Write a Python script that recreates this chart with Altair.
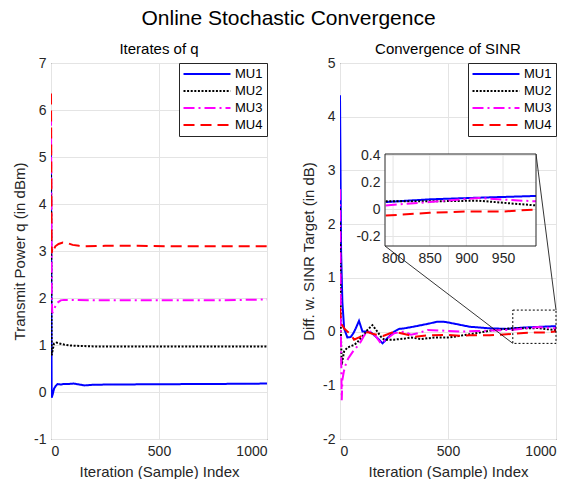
import altair as alt
import pandas as pd

SERIES = ["MU1", "MU2", "MU3", "MU4"]
COLORS = ["#0000ff", "#000000", "#ff00ff", "#ff0000"]
DASHES = [[1, 0], [2, 1.6], [11, 4, 2, 4], [11, 6]]

# ---- Left panel: iterates of q (dBm) ----
q1_x = [0, 3, 8, 14, 22, 30, 45, 60, 80, 105, 130, 155, 200, 300, 500, 700, 900, 1000]
q1_y = [5.05, -0.12, -0.05, 0.07, 0.13, 0.17, 0.16, 0.17, 0.17, 0.18, 0.16, 0.14, 0.155, 0.16, 0.165, 0.17, 0.175, 0.18]
q2_x = [0, 3, 8, 14, 25, 40, 60, 90, 130, 200, 400, 700, 1000]
q2_y = [5.0, 0.78, 0.9, 1.03, 1.05, 1.03, 1.01, 0.99, 0.98, 0.97, 0.97, 0.97, 0.97]
q3_x = [0, 3, 6, 12, 20, 30, 45, 60, 100, 200, 500, 800, 1000]
q3_y = [5.9, 2.0, 1.68, 1.75, 1.82, 1.9, 1.95, 1.96, 1.96, 1.95, 1.95, 1.95, 1.97]
q4_x = [0, 3, 6, 10, 20, 35, 55, 75, 100, 130, 160, 250, 400, 600, 800, 1000]
q4_y = [6.35, 2.95, 3.05, 3.0, 3.1, 3.15, 3.18, 3.17, 3.13, 3.11, 3.1, 3.11, 3.11, 3.1, 3.1, 3.1]

# ---- Right panel: difference with SINR target (dB) ----
s1_x = [0, 5, 11, 19, 34, 50, 62, 73, 88, 104, 127, 145, 173, 197, 220, 251, 274, 298, 352, 414, 445, 476, 500, 538, 600, 693, 771, 790, 850, 917, 995, 1000]
s1_y = [4.4, 1.5, 0.55, 0.06, -0.11, -0.1, -0.03, 0.06, 0.2, 0.0, 0.0, -0.02, -0.12, -0.22, -0.12, 0.0, 0.05, 0.06, 0.1, 0.15, 0.18, 0.185, 0.17, 0.14, 0.09, 0.06, 0.05, 0.055, 0.075, 0.087, 0.1, 0.1]
s2_x = [0, 4, 8, 13, 19, 34, 50, 65, 80, 96, 112, 127, 150, 173, 190, 205, 251, 300, 329, 375, 437, 500, 538, 600, 631, 700, 724, 790, 850, 917, 960, 995, 1000]
s2_y = [2.3, 0.0, -0.62, -0.5, -0.37, -0.3, -0.27, -0.25, -0.2, -0.12, -0.05, 0.03, 0.12, 0.0, -0.1, -0.15, -0.15, -0.13, -0.11, -0.14, -0.11, -0.11, -0.09, -0.05, -0.03, 0.02, 0.03, 0.06, 0.06, 0.065, 0.045, 0.03, 0.03]
s3_x = [0, 4, 8, 11, 18, 26, 38, 50, 62, 73, 85, 96, 108, 119, 142, 166, 189, 212, 251, 298, 329, 360, 406, 468, 561, 631, 700, 771, 790, 850, 917, 960, 995, 1000]
s3_y = [2.65, 0.0, -1.28, -0.9, -0.74, -0.62, -0.5, -0.43, -0.36, -0.31, -0.25, -0.19, -0.1, -0.03, 0.0, -0.09, -0.22, -0.15, -0.03, 0.0, -0.06, -0.03, 0.03, 0.02, 0.0, 0.01, 0.02, 0.03, 0.03, 0.055, 0.085, 0.07, 0.06, 0.06]
s4_x = [0, 3, 10, 19, 34, 50, 65, 88, 111, 127, 150, 173, 200, 220, 251, 313, 344, 406, 499, 553, 600, 693, 790, 850, 900, 950, 995, 1000]
s4_y = [0.45, 0.25, 0.12, 0.06, 0.0, -0.05, -0.15, -0.11, -0.05, -0.01, -0.04, -0.06, -0.08, -0.05, 0.0, -0.06, -0.1, -0.07, -0.06, -0.08, -0.07, -0.07, -0.045, -0.025, -0.015, -0.015, 0.0, 0.0]

# axis limits / ticks
q_ylim = [-1, 7]
s_ylim = [-2, 5]
x_lim = [0, 1000]
x_ticks = [0, 500, 1000]
inset_xlim = [789, 995]
inset_ylim = [-0.27, 0.41]
inset_xticks = [800, 850, 900, 950]
inset_yticks = [-0.2, 0, 0.2, 0.4]
zoom_box_x = [800, 1000]
zoom_box_y = [-0.22, 0.40]

# layout (pixels)
W, H = 216, 376
INSET_PX_X = [45, 196]
INSET_PX_Y = [183, 91]

FONT = "Liberation Sans"
GRID = "#e4e4e4"
AX = "#262626"
PLAIN = "'' + datum.value"


def long_df(xs, ys):
    rows = []
    for name, xv, yv in zip(SERIES, xs, ys):
        for a, b in zip(xv, yv):
            rows.append({"mu": name, "iter": a, "val": b})
    return pd.DataFrame(rows)


q_df = long_df([q1_x, q2_x, q3_x, q4_x], [q1_y, q2_y, q3_y, q4_y])
s_df = long_df([s1_x, s2_x, s3_x, s4_x], [s1_y, s2_y, s3_y, s4_y])

legend = alt.Legend(
    title=None, orient="top-right", offset=0, symbolType="M-4,0H4", symbolSize=138,
    symbolStrokeWidth=2, symbolOffset=17, labelOffset=21, padding=4, fillColor="white",
    strokeColor=AX, labelFontSize=13, labelFont=FONT, labelColor="black", rowPadding=3,
)
color = alt.Color("mu:N", scale=alt.Scale(domain=SERIES, range=COLORS), legend=legend)
dash = alt.StrokeDash("mu:N", scale=alt.Scale(domain=SERIES, range=DASHES), legend=legend)


def main_x(field):
    return alt.X(f"{field}:Q", scale=alt.Scale(domain=x_lim, nice=False, zero=False),
                 axis=alt.Axis(values=x_ticks, title="Iteration (Sample) Index", labelExpr=PLAIN))


def main_y(field, lim, title):
    return alt.Y(f"{field}:Q", scale=alt.Scale(domain=lim, nice=False, zero=False),
                 axis=alt.Axis(values=list(range(lim[0], lim[1] + 1)), title=title, labelExpr=PLAIN))


def panel_title(t):
    return alt.TitleParams(t, fontSize=15, fontWeight="normal", color="black", font=FONT,
                           offset=-1, frame="group", anchor="middle")


left = alt.Chart(q_df).mark_line(strokeWidth=2, clip=True).encode(
    x=main_x("iter"),
    y=main_y("val", q_ylim, "Transmit Power q (in dBm)"),
    color=color, strokeDash=dash,
).properties(width=W, height=H, title=panel_title("Iterates of q"))

# ---- right panel main layer ----
S_TITLE = "Diff. w. SINR Target (in dB)"
main_lines = alt.Chart(s_df).mark_line(strokeWidth=2, clip=True).encode(
    x=main_x("iter"), y=main_y("val", s_ylim, S_TITLE), color=color, strokeDash=dash)

box_df = pd.DataFrame([{"x0": zoom_box_x[0], "x1": zoom_box_x[1], "y0": zoom_box_y[0], "y1": zoom_box_y[1]}])
zoom_box = alt.Chart(box_df).mark_rect(filled=False, stroke="black", strokeWidth=1, strokeDash=[2, 2]).encode(
    x=main_x("x0"), x2="x1", y=main_y("y0", s_ylim, S_TITLE), y2="y1")


# inset corners expressed in main-panel data coordinates
def px_to_x(px):
    return x_lim[0] + px / W * (x_lim[1] - x_lim[0])


def px_to_y(py):
    return s_ylim[1] - py / H * (s_ylim[1] - s_ylim[0])


conn_df = pd.DataFrame([
    {"x0": px_to_x(INSET_PX_X[0]), "y0": px_to_y(INSET_PX_Y[0]), "x1": zoom_box_x[0], "y1": zoom_box_y[0]},
    {"x0": px_to_x(INSET_PX_X[1]), "y0": px_to_y(INSET_PX_Y[1]), "x1": zoom_box_x[1], "y1": zoom_box_y[1]},
])
connectors = alt.Chart(conn_df).mark_rule(color="black", strokeWidth=0.8).encode(
    x=main_x("x0"), x2="x1", y=main_y("y0", s_ylim, S_TITLE), y2="y1")

main_layer = alt.layer(main_lines, zoom_box, connectors)


# ---- inset layer ----
def ix(field):
    return alt.X(f"{field}:Q", scale=alt.Scale(domain=inset_xlim, range=INSET_PX_X, nice=False, zero=False),
                 axis=alt.Axis(values=inset_xticks, orient="bottom", offset=INSET_PX_Y[0] - H, title=None,
                               grid=False, zindex=1, labelExpr=PLAIN))


def iy(field):
    return alt.Y(f"{field}:Q", scale=alt.Scale(domain=inset_ylim, range=INSET_PX_Y, nice=False, zero=False),
                 axis=alt.Axis(values=inset_yticks, orient="left", offset=-INSET_PX_X[0], title=None,
                               grid=False, zindex=1, labelExpr=PLAIN))


ibox_df = pd.DataFrame([{"x0": inset_xlim[0], "x1": inset_xlim[1], "y0": inset_ylim[0], "y1": inset_ylim[1]}])
inset_bg = alt.Chart(ibox_df).mark_rect(fill="white", stroke=None).encode(x=ix("x0"), x2="x1", y=iy("y0"), y2="y1")
gx_df = pd.DataFrame([{"g": v, "lo": inset_ylim[0], "hi": inset_ylim[1]} for v in inset_xticks])
gy_df = pd.DataFrame([{"g": v, "lo": inset_xlim[0], "hi": inset_xlim[1]} for v in inset_yticks])
inset_gx = alt.Chart(gx_df).mark_rule(color=GRID, strokeWidth=1).encode(x=ix("g"), y=iy("lo"), y2="hi")
inset_gy = alt.Chart(gy_df).mark_rule(color=GRID, strokeWidth=1).encode(y=iy("g"), x=ix("lo"), x2="hi")
inset_lines = alt.Chart(s_df).transform_filter(
    (alt.datum.iter >= inset_xlim[0]) & (alt.datum.iter <= inset_xlim[1])
).mark_line(strokeWidth=2).encode(x=ix("iter"), y=iy("val"), color=color, strokeDash=dash)
inset_frame = alt.Chart(ibox_df).mark_rect(filled=False, stroke=AX, strokeWidth=1).encode(
    x=ix("x0"), x2="x1", y=iy("y0"), y2="y1")

inset_layer = alt.layer(inset_bg, inset_gx, inset_gy, inset_lines, inset_frame)

right = alt.layer(main_layer, inset_layer).resolve_scale(x="independent", y="independent").properties(
    width=W, height=H, title=panel_title("Convergence of SINR"))

chart = alt.hconcat(
    left, right, spacing=73, bounds="flush",
    title=alt.TitleParams("Online Stochastic Convergence", fontSize=21, fontWeight="normal", color="black",
                          font=FONT, anchor="middle", offset=13, dx=4),
    padding={"left": 12, "top": 7, "right": 5, "bottom": 2},
).resolve_scale(color="independent", strokeDash="independent").resolve_legend(
    color="independent", strokeDash="independent"
).configure(font=FONT).configure_view(stroke=AX, strokeWidth=1).configure_axis(
    labelFont=FONT, titleFont=FONT, labelFontSize=14, titleFontSize=15, titleFontWeight="normal",
    labelColor=AX, titleColor=AX, ticks=False, domain=False, gridColor=GRID, gridWidth=1,
    labelPadding=5, titlePadding=6,
)

chart.save("out.html", embed_options={"renderer": "svg", "actions": False})
